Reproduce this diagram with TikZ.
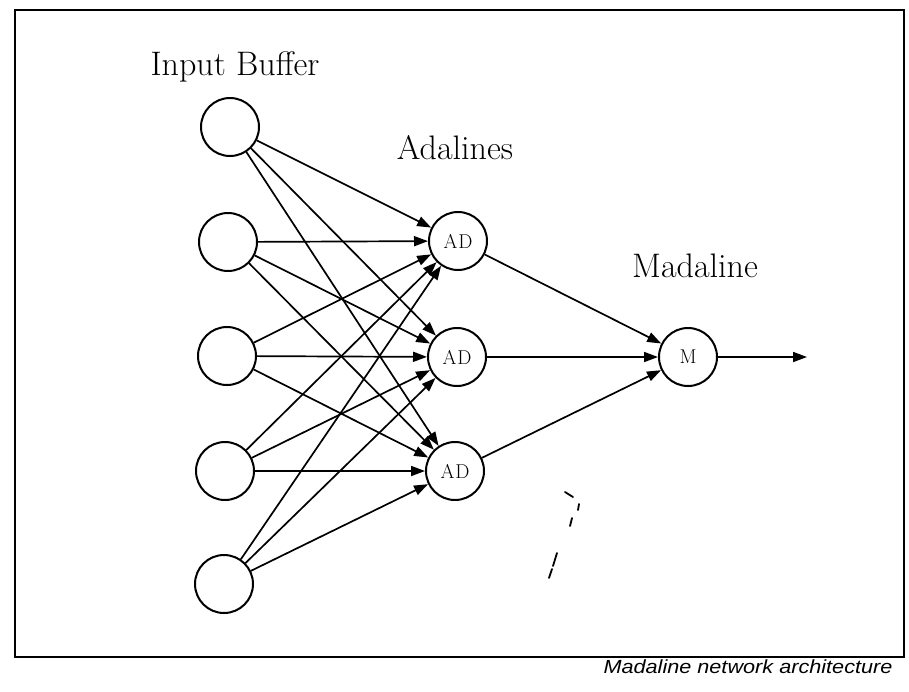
\documentclass[tikz,border=0pt]{standalone}
\usepackage{fontspec}
\newfontfamily\capfont{Liberation Sans}
\usetikzlibrary{arrows.meta}
\tikzset{
  unit/.style={circle, draw, line width=2pt, minimum size=58pt, inner sep=0pt, font=\fontsize{20}{22}\selectfont},
  conn/.style={line width=1.7pt, -{Triangle[length=14pt,width=10pt]}},
  layerlabel/.style={anchor=base, font=\fontsize{34}{36}\selectfont},
  scratch/.style={line width=1.8pt, line cap=round}
}
\begin{document}
\begin{tikzpicture}[x=1pt,y=-1pt]
  \useasboundingbox (0,0) rectangle (909,691);
  % outer frame
  \draw[line width=2.6pt] (15,10) rectangle (904,657);

  % input buffer
  \node[unit] (i1) at (230,127) {};
  \node[unit] (i2) at (228,242) {};
  \node[unit] (i3) at (227,356) {};
  \node[unit] (i4) at (225,471) {};
  \node[unit] (i5) at (224,584) {};

  % adalines
  \node[unit] (a1) at (458,241) {A\kern1pt D};
  \node[unit] (a2) at (457,357) {A\kern1pt D};
  \node[unit] (a3) at (455,471) {A\kern1pt D};

  % madaline
  \node[unit] (m) at (688,357) {M};
  \coordinate (out) at (807,357);

  % labels
  \node[layerlabel] (lin) at (235,75) {Input Buffer};
  \node[layerlabel] (lad) at (455,159) {Adalines};
  \node[layerlabel] (lmd) at (695,277) {Madaline};

  % fully connected input -> adaline layer
  \foreach \i in {1,...,5}
    \foreach \j in {1,2,3}
      \draw[conn] (i\i) -- (a\j);

  % adalines -> madaline -> output
  \foreach \j in {1,2,3}
    \draw[conn] (a\j) -- (m);
  \draw[conn] (m) -- (out);

  % pencil scratches
  \draw[scratch] (565,492) -- (573,497);
  \draw[scratch] (579,504) -- (578,510);
  \draw[scratch] (572,518) -- (570,526);
  \draw[scratch] (557,553) -- (553,566);
  \draw[scratch] (552,569) -- (549,578);

  % caption
  \node[anchor=base east, font=\capfont\itshape\fontsize{19}{21}\selectfont] (cap) at (896,673)
    {\scalebox{1.14}[1]{Madaline network architecture}};
\end{tikzpicture}
\end{document}
